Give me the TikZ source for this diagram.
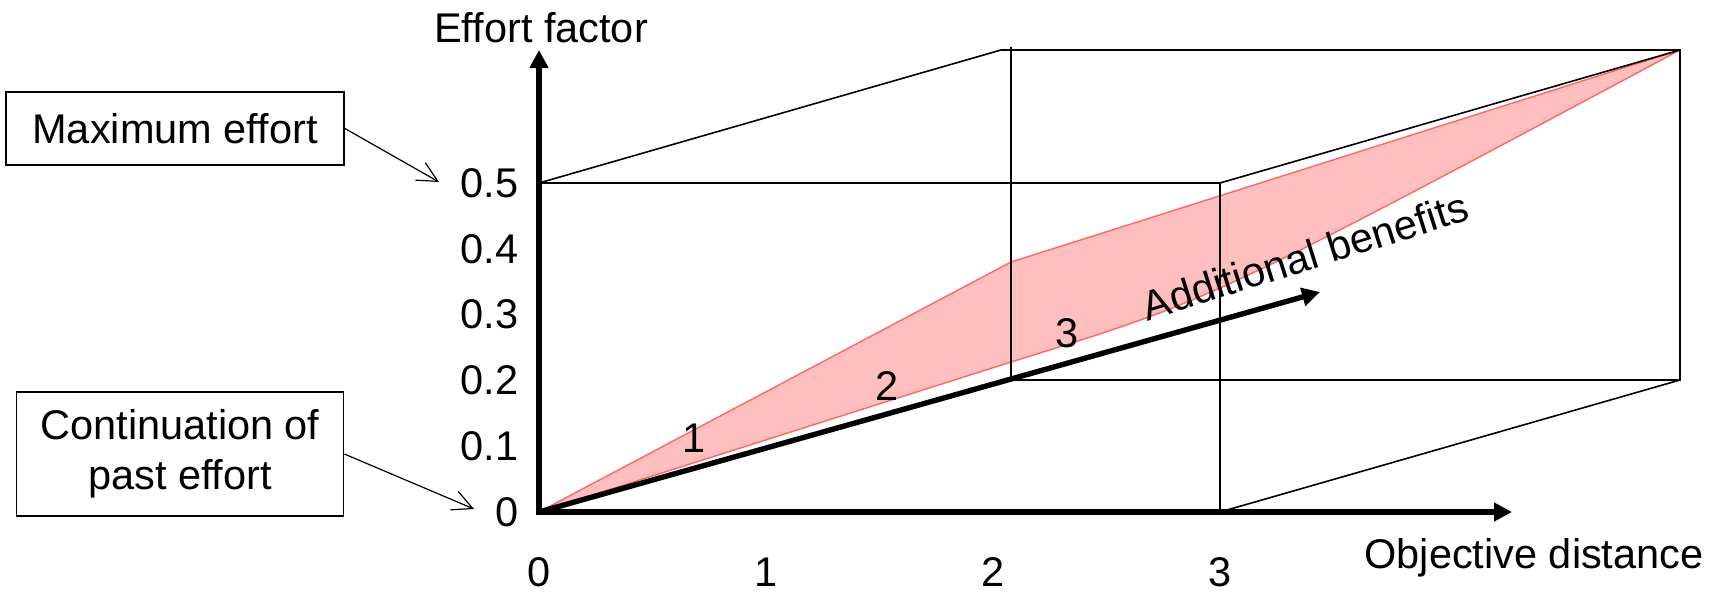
\documentclass[tikz,border=0pt]{standalone}
\usepackage{fontspec}
\setmainfont{Liberation Sans}
\usepackage{xcolor}
\definecolor{EFFfill}{HTML}{FFBFBF}
\definecolor{EFFline}{HTML}{FF6666}
\usetikzlibrary{arrows.meta, positioning}

\begin{document}
\begin{tikzpicture}[x=0.5pt, y=-0.5pt, font=\fontsize{20.75}{25}\selectfont]
  \tikzset{
    axis/.style={line width=2.7pt, -{Triangle[length=9pt, width=9pt]}},
    boxedge/.style={line width=0.8pt},
    callout/.style={draw, line width=0.9pt, inner sep=0pt, align=center},
    pointer/.style={-{Straight Barb[length=10pt, width=10pt]}, line width=0.6pt},
    slab/.style={fill=EFFfill, draw=EFFline, line width=0.7pt},
    tick/.style={anchor=base},
  }
  \useasboundingbox (0,0) rectangle (1725,591);

  % Corners of the box (front face, back face)
  \coordinate (O)  at (539,512);
  \coordinate (A)  at (1220,512);
  \coordinate (B)  at (1220,183);
  \coordinate (C)  at (539,183);
  \coordinate (Ob) at (1011,380);
  \coordinate (Ot) at (1011,47);
  \coordinate (Ab) at (1680,380);
  \coordinate (Bb) at (1680,50);
  \coordinate (Cb) at (1001,50);

  % Shaded effort region
  \coordinate (P1) at (1011,262);
  \coordinate (P2) at (1011,362);
  \coordinate (K)  at (1214,299);
  \draw[slab] (O) -- (P1) -- (Bb) .. controls (K) and (K) .. (P2) -- cycle;

  % Box edges
  \draw[boxedge] (O) -- (A) -- (B) -- (C);
  \draw[boxedge] (C) -- (Cb) -- (Bb) -- (Ab) -- (Ob);
  \draw[boxedge] (B) -- (Bb);
  \draw[boxedge] (A) -- (Ab);
  \draw[boxedge] (Ot) -- (Ob);

  % Axes
  \coordinate (xend) at (1512,512);
  \coordinate (yend) at (539,50);
  \coordinate (zend) at (1320,292);
  \draw[axis, {Triangle[length=9pt, width=9pt]}-{Triangle[length=9pt, width=9pt]}]
    (yend) -- (O) -- (xend);
  \draw[axis] (O) -- (zend);

  % Axis titles
  \node[anchor=base] (ytitle) at (541,42) {Effort factor};
  \node[anchor=base] (xtitle) at (1534,568) {Objective distance};
  \node[rotate=17.5] (ztitle) at (1305,256) {Additional benefits};

  % Tick labels
  \foreach \v [count=\i from 0] in {0,0.1,0.2,0.3,0.4,0.5}
    \node[anchor=east, inner sep=0pt] (ylab\i) at (519,512-65.8*\i) {\v};
  \foreach \i in {0,...,3}
    \node[anchor=center, inner sep=0pt] (xlab\i) at (539+227*\i,572) {\i};

  % Region labels
  \node[tick] (r1) at (694,452) {1};
  \node[tick] (r2) at (887,400) {2};
  \node[tick] (r3) at (1067,347) {3};

  % Call-outs
  \node[callout, minimum width=169pt, minimum height=36.5pt] (maxbox) at (175,128.5)
    {Maximum effort};
  \node[callout, minimum width=163.5pt, minimum height=62pt] (pastbox) at (180,454)
    {Continuation of\\past effort};
  \coordinate (maxtip)  at (439,182);
  \coordinate (pasttip) at (474,509);
  \draw[pointer] (maxbox.east) -- (maxtip);
  \draw[pointer] (pastbox.east) -- (pasttip);
\end{tikzpicture}
\end{document}
